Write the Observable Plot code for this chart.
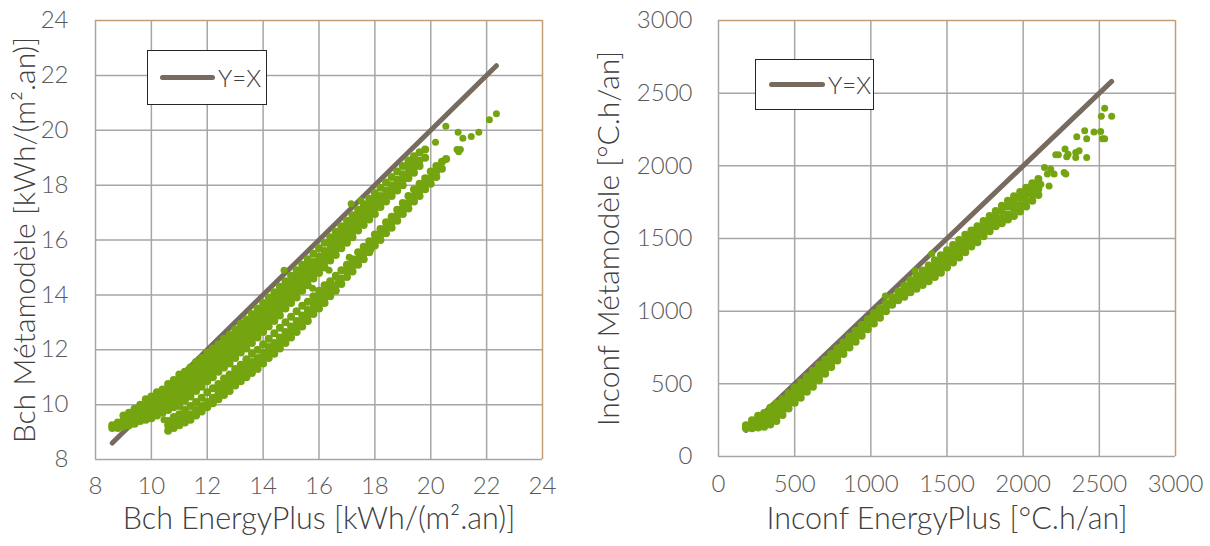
<!DOCTYPE html>
<html><head><meta charset="utf-8">
<script src="https://cdn.jsdelivr.net/npm/d3@7"></script>
<script src="https://cdn.jsdelivr.net/npm/@observablehq/plot@0.6"></script>
<style>
html,body{margin:0;padding:0;background:#fff;}
#wrap{position:relative;width:1210px;height:546px;overflow:hidden;font-family:Lato,"Open Sans",sans-serif;}
.panel{position:absolute;top:0;}
.legend{position:absolute;border:1.5px solid #262626;background:#fff;display:flex;align-items:center;box-sizing:border-box;font-size:24px;font-weight:300;color:#404040;font-family:Lato,"Open Sans",sans-serif;}
.legend .sw{display:inline-block;height:5px;border-radius:3px;background:#766b5e;margin-right:3px;}
</style></head><body><div id="wrap"></div>
<script>
// ---------- tick values ----------
const bchTicks = [8, 10, 12, 14, 16, 18, 20, 22, 24];
const inconfTicks = [0, 500, 1000, 1500, 2000, 2500, 3000];

// ---------- texts ----------
const bchXTitle = "Bch EnergyPlus [kWh/(m².an)]";
const bchYTitle = "Bch Métamodèle [kWh/(m².an)]";
const inconfXTitle = "Inconf EnergyPlus [°C.h/an]";
const inconfYTitle = "Inconf Métamodèle [°C.h/an]";
const legendLabel = "Y=X";

// ---------- Bch data: each row = [EnergyPlus value, Métamodèle values...] ----------
const bchUpperBand = [
[8.6,9.15,9.25],[8.8,9.15,9.35],[9.0,9.2,9.4,9.6],[9.2,9.25,9.45,9.7],
[9.4,9.3,9.5,9.7,9.85],[9.6,9.4,9.6,9.8,10.0],[9.8,9.45,9.65,9.85,10.05,10.2],
[10.0,9.5,9.7,9.9,10.1,10.3],[10.2,9.6,9.8,10.0,10.2,10.45],[10.4,9.7,9.9,10.1,10.3,10.55],
[10.6,9.8,10.0,10.2,10.4,10.6,10.75],[10.8,9.9,10.1,10.3,10.5,10.7,10.9],
[11.0,9.95,10.15,10.35,10.55,10.75,10.95,11.1],[11.2,10.15,10.35,10.55,10.75,10.95,11.2],
[11.4,10.3,10.5,10.7,10.9,11.1,11.35],[11.6,10.5,10.7,10.9,11.1,11.3,11.55],
[11.8,10.65,10.85,11.05,11.25,11.45,11.7],[12.0,10.85,11.05,11.25,11.45,11.65,11.9],
[12.2,11.0,11.2,11.4,11.6,11.8,12.05],[12.4,11.2,11.4,11.6,11.8,12.0,12.2],
[12.6,11.35,11.55,11.75,11.95,12.15,12.4],[12.8,11.5,11.7,11.9,12.1,12.3,12.55],
[13.0,11.7,11.9,12.1,12.3,12.5,12.75],[13.2,11.9,12.1,12.3,12.5,12.7,12.95],
[13.4,12.05,12.25,12.45,12.65,12.85,13.1],[13.6,12.25,12.45,12.65,12.85,13.05,13.3],
[13.8,12.45,12.65,12.85,13.05,13.25,13.5],[14.0,12.65,12.85,13.05,13.25,13.45,13.7],
[14.2,12.85,13.05,13.25,13.45,13.65,13.9],[14.4,13.05,13.25,13.45,13.65,13.85,14.1],
[14.6,13.25,13.45,13.65,13.85,14.05,14.3],[14.8,13.5,13.7,13.9,14.1,14.3,14.5],
[15.0,13.7,13.9,14.1,14.3,14.5,14.7],[15.2,13.9,14.1,14.3,14.5,14.7,14.9],
[15.4,14.15,14.35,14.55,14.75,14.95,15.1],[15.6,14.35,14.55,14.75,14.95,15.15,15.3],
[15.8,14.6,14.8,15.0,15.2,15.5],[16.0,14.8,15.0,15.2,15.4,15.7],
[16.2,15.0,15.2,15.4,15.6,15.9],[16.4,15.25,15.45,15.65,15.85,16.1],
[16.6,15.45,15.65,15.85,16.05,16.3],[16.8,15.7,15.9,16.1,16.3,16.5],
[17.0,15.9,16.1,16.3,16.5,16.7],[17.2,16.1,16.3,16.5,16.7,16.9],
[17.4,16.35,16.55,16.75,16.95,17.1],[17.6,16.55,16.75,16.95,17.15,17.3],
[17.8,16.75,16.95,17.15,17.35,17.5],[18.0,16.95,17.15,17.35,17.55,17.7],
[18.2,17.2,17.4,17.6,17.9],[18.4,17.4,17.6,17.8,18.1],[18.6,17.6,17.8,18.0,18.3],
[18.8,17.8,18.0,18.2,18.5],[19.0,18.0,18.2,18.4,18.7],[19.2,18.25,18.45,18.65,18.9],
[19.4,18.45,18.65,18.85,19.05],[19.6,18.7,18.9,19.2],[19.8,19.0,19.3]
];
const bchLowerBand = [
[10.6,9.05,9.25,9.4],[10.8,9.15,9.35,9.55],[11.0,9.25,9.45,9.65],[11.2,9.35,9.55,9.8],
[11.4,9.45,9.65,9.95],[11.6,9.6,9.8,10.1],[11.8,9.75,9.95,10.25],
[12.0,9.9,10.1,10.45],[12.2,10.05,10.25,10.6],[12.4,10.2,10.4,10.6,10.75],
[12.6,10.35,10.55,10.75,10.95],[12.8,10.5,10.7,10.9,11.1],
[13.0,10.7,10.9,11.1,11.3],[13.2,10.85,11.05,11.25,11.45],
[13.4,11.0,11.2,11.4,11.65],[13.6,11.15,11.35,11.55,11.85],
[13.8,11.3,11.5,11.7,12.0],[14.0,11.5,11.7,11.9,12.2],
[14.2,11.7,11.9,12.1,12.4],[14.4,11.85,12.05,12.25,12.6],
[14.6,12.05,12.25,12.45,12.8],[14.8,12.25,12.45,12.65,13.0],
[15.0,12.45,12.65,12.85,13.2],[15.2,12.65,12.85,13.05,13.4],
[15.4,12.85,13.05,13.25,13.6],[15.6,13.05,13.25,13.45,13.75],
[15.8,13.3,13.5,13.7,13.95],[16.0,13.5,13.7,13.9,14.15],
[16.2,13.7,13.9,14.1,14.35],[16.4,13.95,14.15,14.5],
[16.6,14.15,14.35,14.7],[16.8,14.4,14.6,14.9],
[17.0,14.65,14.85,15.1],[17.2,14.85,15.05,15.3],
[17.4,15.1,15.3,15.55],[17.6,15.3,15.5,15.75],
[17.8,15.55,15.75,15.95],[18.0,15.8,16.0,16.2],
[18.2,16.0,16.2,16.4],[18.4,16.25,16.45,16.65],[18.6,16.45,16.65,16.85],
[18.8,16.7,16.9,17.1],[19.0,16.95,17.15,17.35],[19.2,17.15,17.35,17.6],
[19.4,17.4,17.6,17.85],[19.6,17.6,17.8,18.05],[19.8,17.85,18.05,18.25],
[20.0,18.05,18.25,18.5],[20.2,18.3,18.5,18.7],[20.4,18.6,18.85],[20.55,18.95]
];
const bchScatter = [
[20.54,20.15],[20.98,19.93],[21.15,19.71],[21.45,19.77],[21.72,19.93],[22.1,20.38],
[22.35,20.6],[20.17,19.56],[20.94,19.3],[21.06,19.3],[21.0,19.22],[17.15,17.32],
[17.5,17.44],[14.75,14.9],[15.67,14.7],[16.36,14.9],[16.66,14.6],[16.9,14.9],
[16.42,14.3],[15.77,14.24],[16.07,14.06],[17.08,15.37],[17.38,15.27],[17.86,15.66],
[10.45,9.45]
];

// ---------- Inconf data: each row = [EnergyPlus value, Métamodèle values...] ----------
const inconfBand = [
[180,195,215],[220,195,225,250],[260,200,230,260,280],[300,205,235,265,300],
[340,220,250,280,310,335],[380,245,275,305,335,365],[420,285,315,345,375,395],
[460,330,360,390,420,435],[500,370,400,430,460,475],[540,405,435,465,495,510],
[580,445,475,505,535,550],[620,480,510,540,570,590],[660,525,555,585,615,630],
[700,570,600,630,665],[740,615,645,675,705],[780,660,690,720,745],[820,705,735,760,785],
[860,750,780,805,825],[900,790,820,845,865],[940,830,860,885,905],[980,875,905,925,945],
[1020,915,945,965,985],[1060,955,985,1005,1020],[1100,1000,1030,1055],[1140,1045,1070,1095],
[1180,1075,1105,1135],[1220,1100,1130,1160,1175],[1260,1130,1160,1190,1215],
[1300,1155,1185,1215,1245],[1340,1180,1210,1240,1280],[1380,1205,1240,1275,1315],
[1420,1235,1270,1305,1350],[1460,1265,1300,1340,1385],[1500,1300,1335,1375,1420],
[1540,1335,1370,1410,1455],[1580,1370,1405,1445,1490],[1620,1405,1440,1480,1525],
[1660,1445,1480,1515,1555],[1700,1475,1510,1545,1585],[1740,1515,1550,1585,1620],
[1780,1550,1585,1620,1655],[1820,1585,1620,1655,1690],[1860,1605,1640,1690,1725],
[1900,1630,1665,1720,1760],[1940,1655,1700,1750,1790],[1980,1685,1730,1780,1820],
[2020,1720,1760,1810,1850],[2060,1760,1800,1840,1880],[2100,1800,1840,1880,1910]
];
const inconfScatter = [
[2140,1988],[2159,1943],[2181,1977],[2203,1943],[2269,1954],[2280,1943],[2116,1874],
[2170,1862],[2214,2076],[2231,2076],[2275,2115],[2286,2062],[2295,2080],[2345,2092],
[2367,2103],[2345,2057],[2417,2057],[2352,2200],[2404,2241],[2417,2186],[2465,2232],
[2509,2236],[2520,2186],[2535,2186],[2513,2342],[2535,2397],[2581,2342],
[1095,1105],[1290,1280],[1400,1395]
];

// ---------- build ----------
const fromCols = rows => rows.flatMap(([x, ...ys]) => ys.map(y => ({x, y})));
const fromPairs = rows => rows.map(([x, y]) => ({x, y}));

function panel(o) {
  const all = [...o.band, ...o.scatter];
  const [lo, hi] = d3.extent(all, d => d.x);
  const dmin = o.ticks[0], dmax = o.ticks[o.ticks.length - 1];
  const font = "Lato, 'Open Sans', sans-serif";
  const green = "#74a510";
  return Plot.plot({
    width: o.width, height: 546,
    marginLeft: o.ml, marginRight: o.mr, marginTop: 20, marginBottom: o.mb,
    x: {domain: [dmin, dmax], axis: null},
    y: {domain: [dmin, dmax], axis: null},
    style: {background: "transparent", fontFamily: font, overflow: "visible"},
    marks: [
      Plot.ruleX(o.ticks.slice(0, -1), {stroke: "#a6a6a6", strokeWidth: 1.5}),
      Plot.ruleY(o.ticks.slice(0, -1), {stroke: "#a6a6a6", strokeWidth: 1.5}),
      Plot.ruleX([dmax], {stroke: "#c39d75", strokeWidth: 1.5}),
      Plot.ruleY([dmax], {stroke: "#c39d75", strokeWidth: 1.5}),
      Plot.line([[lo, lo], [hi, hi]], {stroke: "#766b5e", strokeWidth: 5, strokeLinecap: "round"}),
      Plot.dot(o.band, {x: "x", y: "y", r: 4, fill: green}),
      Plot.dot(o.scatter, {x: "x", y: "y", r: 3.5, fill: green}),
      Plot.text(o.ticks, {x: d => d, text: d => String(d), frameAnchor: "bottom", dy: o.xLabDy, fontSize: 24, fontWeight: 300, fill: "#595959"}),
      Plot.text(o.ticks, {y: d => d, text: d => String(d), frameAnchor: "left", dx: -o.yPad, textAnchor: "end", fontSize: 24, fontWeight: 300, fill: "#595959"}),
      Plot.text([o.xTitle], {text: d => d, frameAnchor: "bottom", dy: o.xTitleDy, textAnchor: "middle", fontSize: 30.5, fontWeight: 300, fill: "#404040"}),
      Plot.text([o.yTitle], {text: d => d, frameAnchor: "left", dx: -o.yTitleOff, textAnchor: "middle", rotate: -90, fontSize: 30, fontWeight: 300, fill: "#404040"})
    ]
  });
}

const wrap = document.getElementById("wrap");
function place(node, left) {
  const d = document.createElement("div");
  d.className = "panel"; d.style.left = left + "px";
  d.appendChild(node); wrap.appendChild(d);
}
function legend(left, top, w, h, padL, swW) {
  const d = document.createElement("div");
  d.className = "legend";
  Object.assign(d.style, {left: left + "px", top: top + "px", width: w + "px", height: h + "px", paddingLeft: padL + "px"});
  const s = document.createElement("span"); s.className = "sw"; s.style.width = swW + "px";
  const t = document.createElement("span"); t.textContent = legendLabel;
  d.appendChild(s); d.appendChild(t); wrap.appendChild(d);
}

const bchBand = [...fromCols(bchUpperBand), ...fromCols(bchLowerBand)];
const inconfBandPts = fromCols(inconfBand);

place(panel({band: bchBand, scatter: fromPairs(bchScatter), ticks: bchTicks, width: 575, ml: 95, mr: 33, mb: 87,
  xLabDy: 34, yPad: 27, xTitleDy: 69, yTitleOff: 70, xTitle: bchXTitle, yTitle: bchYTitle}), 0);
place(panel({band: inconfBandPts, scatter: fromPairs(inconfScatter), ticks: inconfTicks, width: 635, ml: 143, mr: 35, mb: 90,
  xLabDy: 35, yPad: 26, xTitleDy: 72, yTitleOff: 109, xTitle: inconfXTitle, yTitle: inconfYTitle}), 575);
legend(147, 50, 120, 55, 12, 55);
legend(755, 59, 119, 51, 13, 56);
</script></body></html>
